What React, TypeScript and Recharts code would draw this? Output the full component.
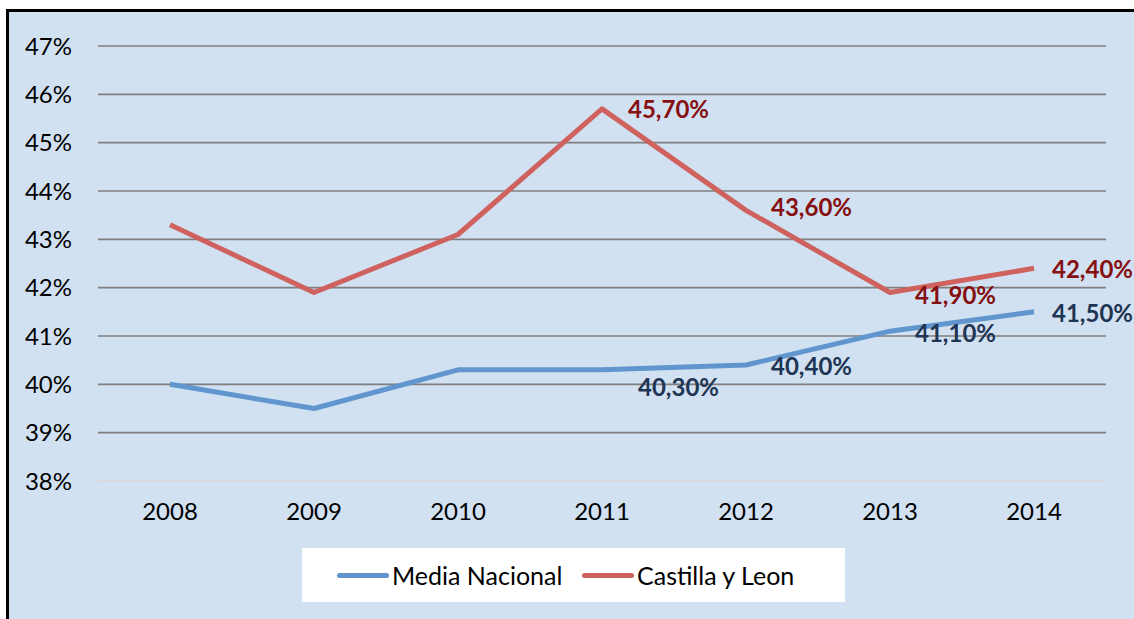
import { LineChart, Line, XAxis, YAxis, CartesianGrid, LabelList } from "recharts";

// values
const years = ["2008", "2009", "2010", "2011", "2012", "2013", "2014"];
const mediaNacional = [40.0, 39.5, 40.3, 40.3, 40.4, 41.1, 41.5];
const castillaLeon = [43.3, 41.9, 43.1, 45.7, 43.6, 41.9, 42.4];
const labelledFrom = 3; // labels only on 2011..2014
const yTicks = [38, 39, 40, 41, 42, 43, 44, 45, 46, 47];

const BLUE = "#6096CD";
const RED = "#CF625E";
const BG = "#D1E1F2";
const FONT = "Lato, 'Open Sans', sans-serif";

const data = years.map((y, i) => ({ year: y, media: mediaNacional[i], cyl: castillaLeon[i] }));

const fmt = (v: number) => v.toFixed(2).replace(".", ",") + "%";

// small per-point nudges so the labels sit where Excel put them
const blueNudge: Record<number, [number, number]> = { 3: [36, 20], 4: [25, 4], 5: [25, 5], 6: [18, 4] };
const redNudge: Record<number, [number, number]> = { 3: [26, 3], 4: [25, 0], 5: [25, 5], 6: [18, 4] };

function makeLabel(color: string, nudge: Record<number, [number, number]>) {
  return (props: any) => {
    const { x, y, value, index } = props;
    if (index < labelledFrom) return null;
    const [dx, dy] = nudge[index] || [25, 4];
    return (
      <text x={x + dx} y={y + dy} dominantBaseline="middle" fill={color}
        fontFamily={FONT} fontWeight="bold" fontSize={24}>
        {fmt(value)}
      </text>
    );
  };
}

function LegendBox() {
  const item = (color: string, text: string, x: number) => (
    <div style={{ position: "absolute", left: x, top: 0, height: 54, display: "flex", alignItems: "center" }}>
      <div style={{ width: 52, height: 5, borderRadius: 3, background: color, marginRight: 3 }} />
      <span style={{ fontFamily: FONT, fontSize: 25, color: "#000" }}>{text}</span>
    </div>
  );
  return (
    <div style={{ position: "absolute", left: 302, top: 548, width: 543, height: 54, background: "#fff" }}>
      {item(BLUE, "Media Nacional", 35)}
      {item(RED, "Castilla y Leon", 280)}
    </div>
  );
}

export default function App() {
  return (
    <div style={{ position: "absolute", left: 0, top: 0, width: 1134, height: 619, overflow: "hidden", background: "#fff" }}>
      <div style={{ position: "absolute", left: 6, top: 9, width: 1160, height: 640, background: BG, border: "3px solid #000", boxSizing: "border-box" }} />
      <div style={{ position: "absolute", left: 0, top: 0 }}>
        <LineChart width={1134} height={619} data={data} margin={{ top: 46, right: 28, bottom: 108, left: 0 }}>
          <CartesianGrid vertical={false} stroke="#7f7f7f" strokeWidth={1.6} />
          <XAxis dataKey="year" height={30} axisLine={{ stroke: "#d9d9d9", strokeWidth: 2 }} tickLine={false}
            tickSize={0} tickMargin={22} interval={0} padding={{ left: 72, right: 72 }}
            tick={{ fill: "#000", fontSize: 24, fontFamily: FONT }} />
          <YAxis domain={[38, 47]} ticks={yTicks} width={98} axisLine={false} tickLine={false}
            tickSize={0} tickMargin={26} tickFormatter={(v: number) => `${v}%`}
            tick={{ fill: "#000", fontSize: 24, fontFamily: FONT }} />
          <Line dataKey="media" name="Media Nacional" stroke={BLUE} strokeWidth={5} dot={false}
            isAnimationActive={false} strokeLinejoin="round">
            <LabelList dataKey="media" content={makeLabel("#1F3553", blueNudge)} />
          </Line>
          <Line dataKey="cyl" name="Castilla y Leon" stroke={RED} strokeWidth={5} dot={false}
            isAnimationActive={false} strokeLinejoin="round">
            <LabelList dataKey="cyl" content={makeLabel("#860F0F", redNudge)} />
          </Line>
        </LineChart>
      </div>
      <LegendBox />
    </div>
  );
}
